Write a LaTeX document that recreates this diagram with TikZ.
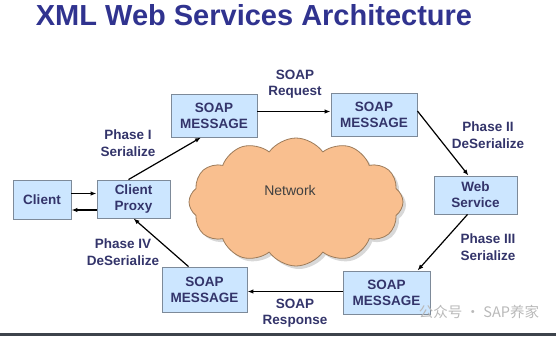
\documentclass[tikz,border=0pt]{standalone}
\usepackage{fontspec}
\setmainfont{Liberation Sans}
\newfontfamily\cjk{Noto Sans CJK SC}
\usetikzlibrary{arrows.meta,shapes.symbols,shadows}
\definecolor{boxblue}{HTML}{CCE6FF}
\definecolor{boxline}{HTML}{7D8A99}
\definecolor{titlenavy}{HTML}{30338F}
\definecolor{labelnavy}{HTML}{33346A}
\definecolor{cloudfill}{HTML}{F9BF8F}
\definecolor{cloudline}{HTML}{9C7B5A}
\definecolor{barcolor}{HTML}{3D434B}
\tikzset{
  msgbox/.style={draw=boxline, fill=boxblue, line width=0.9bp, inner sep=0pt,
    align=center, text=labelnavy, font=\bfseries\fontsize{13.5bp}{16bp}\selectfont},
  phase/.style={align=center, text=labelnavy, font=\bfseries\fontsize{13.5bp}{16.5bp}\selectfont},
  flow/.style={-{Latex[length=6bp,width=4.5bp]}, line width=1.2bp},
}
\begin{document}
\begin{tikzpicture}[x=1bp,y=-1bp]
    \useasboundingbox (0,0) rectangle (556,336);
    % Title
    \node[text=titlenavy, font=\bfseries\fontsize{29bp}{32bp}\selectfont] (title) at (254,15) {XML Web Services Architecture};

    % Network cloud
    \node[cloud, cloud puffs=12, cloud puff arc=110, aspect=1.7, minimum width=214bp, minimum height=128bp,
      inner sep=0pt, fill=cloudfill, draw=cloudline, line width=0.8bp,
      drop shadow={shadow xshift=3bp, shadow yshift=-3bp, fill=gray!60}] (cloud) at (296,202) {};
    \node[font=\fontsize{14bp}{16bp}\selectfont, text=black!75] (net) at (290,190) {Network};

    % Boxes
    \node[msgbox, minimum width=58bp, minimum height=39bp] (client) at (42,199.5) {Client};
    \node[msgbox, minimum width=73bp, minimum height=38bp] (proxy) at (133.5,199) {Client\\Proxy};
    \node[msgbox, minimum width=86bp, minimum height=43bp] (soapa) at (214,115.5) {SOAP\\MESSAGE};
    \node[msgbox, minimum width=86bp, minimum height=43bp] (soapb) at (374,115) {SOAP\\MESSAGE};
    \node[msgbox, minimum width=83bp, minimum height=38bp] (ws) at (475.5,195) {Web\\Service};
    \node[msgbox, minimum width=87bp, minimum height=43bp] (soapc) at (386.5,292.5) {SOAP\\MESSAGE};
    \node[msgbox, minimum width=85bp, minimum height=45bp] (soapd) at (204.5,289.5) {SOAP\\MESSAGE};

    % Labels
    \node[phase] (ph1) at (128,143) {Phase I\\Serialize};
    \node[phase] (req) at (295,84) {SOAP\\Request};
    \node[phase] (ph2) at (488,135) {Phase II\\DeSerialize};
    \node[phase] (ph3) at (488,247) {Phase III\\Serialize};
    \node[phase] (resp) at (295,313) {SOAP\\Response};
    \node[phase] (ph4) at (123,252) {Phase IV\\DeSerialize};

    % Arrows
    \draw[flow] ([yshift=6bp]client.east) -- ([yshift=6bp]client.east -| proxy.west);
    \draw[flow] ([yshift=-11bp]proxy.west) -- ([yshift=-11bp]proxy.west -| client.east);
    \draw[flow] ([xshift=-5bp]proxy.north) -- ([xshift=-13bp]soapa.south);
    \draw[flow] ([yshift=4bp]soapa.east) -- ([yshift=4bp]soapa.east -| soapb.west);
    \draw[flow] ([yshift=4bp]soapb.east) -- ([xshift=-7bp]ws.north);
    \draw[flow] ([xshift=-8bp]ws.south) -- ([xshift=31bp]soapc.north);
    \draw[flow] ([yshift=1bp]soapc.west) -- ([yshift=1bp]soapc.west -| soapd.east);
    \draw[flow] ([xshift=-16bp]soapd.north) -- (proxy.south);

    % Watermark and bottom bar
    \node[text=gray!55, font=\cjk\fontsize{14.5bp}{16bp}\selectfont] (mark) at (479,312) {公众号 · SAP养家};
    \fill[barcolor] (0,333) rectangle (556,336);
\end{tikzpicture}
\end{document}
